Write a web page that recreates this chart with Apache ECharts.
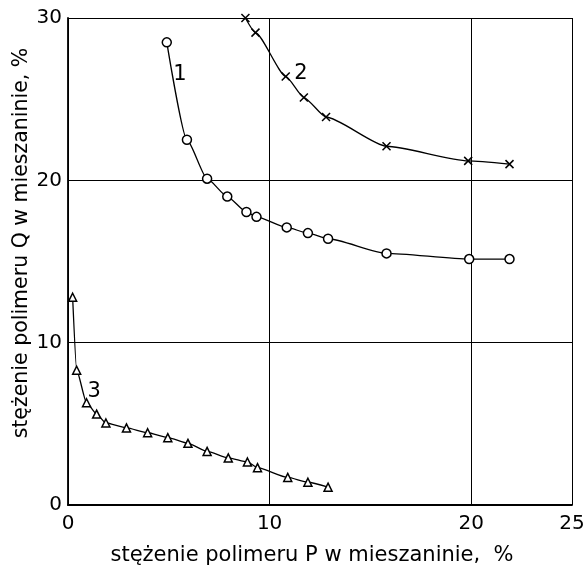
<!DOCTYPE html>
<html>
<head>
<meta charset="utf-8">
<script src="https://cdn.jsdelivr.net/npm/echarts@6/dist/echarts.min.js"></script>
<style>
  html, body { margin: 0; padding: 0; background: #fff; }
  #chart { width: 584px; height: 565px; }
</style>
</head>
<body>
<div id="chart"></div>
<script>
// krzywa 1 (kółka)
const curve1 = [
  [4.9, 28.5], [5.9, 22.5], [6.9, 20.1], [7.9, 19.0], [8.85, 18.05],
  [9.35, 17.75], [10.85, 17.1], [11.9, 16.75], [12.9, 16.4], [15.8, 15.5],
  [19.9, 15.15], [21.9, 15.15]
]
// krzywa 2 (krzyżyki)
const curve2 = [
  [8.8, 30.0], [9.3, 29.1], [10.8, 26.4], [11.7, 25.1], [12.8, 23.9],
  [15.8, 22.1], [19.85, 21.2], [21.9, 21.0]
]
// krzywa 3 (trójkąty)
const curve3 = [
  [0.23, 12.8], [0.43, 8.3], [0.92, 6.3], [1.42, 5.6], [1.88, 5.05],
  [2.9, 4.75], [3.95, 4.45], [4.95, 4.15], [5.95, 3.8], [6.9, 3.3],
  [7.95, 2.9], [8.9, 2.65], [9.4, 2.3], [10.9, 1.7], [11.9, 1.4], [12.9, 1.1]
]
// numery krzywych
const curveLabels = [
  { name: '1', coord: [5.55, 26.5] },
  { name: '2', coord: [11.55, 26.55] },
  { name: '3', coord: [1.3, 7.0] }
]

const xTitle = 'stężenie polimeru P w mieszaninie,  %'
const yTitle = 'stężenie polimeru Q w mieszaninie, %'

const font = 'DejaVu Sans'
const crossPath = 'path://M0,0L10,10M10,0L0,10'

const chart = echarts.init(document.getElementById('chart'))

const baseSeries = (data, symbol, size) => ({
  type: 'line',
  data: data,
  smooth: 0.2,
  smoothMonotone: 'x',
  symbol: symbol,
  symbolSize: size,
  showAllSymbol: true,
  lineStyle: { color: '#000', width: 1.3 },
  itemStyle: { color: '#fff', borderColor: '#000', borderWidth: 1.5 },
  emphasis: { disabled: true },
  animation: false
})

// numer krzywej jako markPoint bez widocznego symbolu
const labelMark = (lbl) => ({
  symbol: 'circle',
  symbolSize: 1,
  itemStyle: { color: 'rgba(0,0,0,0)', borderWidth: 0 },
  label: {
    show: true,
    position: 'inside',
    formatter: lbl.name,
    color: '#000',
    fontFamily: font,
    fontSize: 21
  },
  emphasis: { disabled: true },
  data: [{ coord: lbl.coord }]
})

const s1 = baseSeries(curve1, 'circle', 9)
s1.markPoint = labelMark(curveLabels[0])
const s2 = baseSeries(curve2, crossPath, 8)
s2.markPoint = labelMark(curveLabels[1])
const s3 = baseSeries(curve3, 'triangle', 8)
s3.markPoint = labelMark(curveLabels[2])

chart.setOption({
  animation: false,
  grid: { left: 68, right: 12, top: 18, bottom: 60, outerBoundsMode: 'none' },
  // tytuł osi Y jako osobny tekst, żeby dało się go dokładnie ustawić
  graphic: [{
    type: 'text',
    x: 22,
    y: 243,
    rotation: Math.PI / 2,
    silent: true,
    style: {
      text: yTitle,
      fill: '#000',
      font: '20.5px "DejaVu Sans"',
      textAlign: 'center',
      textVerticalAlign: 'middle'
    }
  }],
  xAxis: {
    type: 'value',
    min: 0,
    max: 25,
    interval: 10,
    name: xTitle,
    nameLocation: 'middle',
    nameGap: 40,
    nameTextStyle: { color: '#000', fontFamily: font, fontSize: 21, padding: [0, 16, 0, 0] },
    axisLine: { show: true, lineStyle: { color: '#000', width: 1.8 } },
    axisTick: { show: false },
    axisLabel: { color: '#000', fontFamily: font, fontSize: 20, margin: 9, showMaxLabel: true },
    splitLine: { show: true, lineStyle: { color: '#000', width: 1 } }
  },
  yAxis: {
    type: 'value',
    min: 0,
    max: 30,
    interval: 10,
    axisLine: { show: true, lineStyle: { color: '#000', width: 1.8 } },
    axisTick: { show: false },
    axisLabel: { color: '#000', fontFamily: font, fontSize: 20, margin: 6 },
    splitLine: { show: true, lineStyle: { color: '#000', width: 1 } }
  },
  series: [s1, s2, s3]
})
</script>
</body>
</html>
